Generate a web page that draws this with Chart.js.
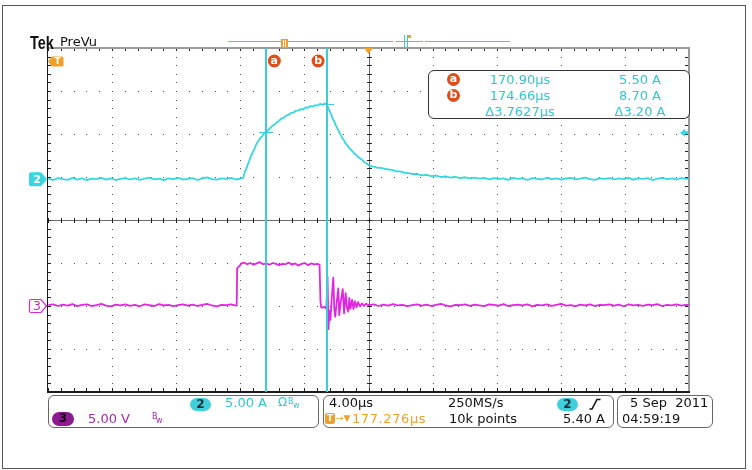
<!DOCTYPE html>
<html><head><meta charset="utf-8">
<script src="https://cdn.jsdelivr.net/npm/chart.js@4.4.0/dist/chart.umd.min.js"></script>
<style>
html,body{margin:0;padding:0;background:#fff;}
#wrap{position:relative;width:752px;height:470px;overflow:hidden;font-family:"DejaVu Sans",sans-serif;}
#c{position:absolute;left:0;top:0;}
.frame{position:absolute;left:2px;top:5px;width:742px;height:462px;border:1px solid #555;}
.t{position:absolute;white-space:pre;font-size:13px;line-height:13px;}
.box{position:absolute;border:1px solid #666;border-radius:6px;background:#fff;box-sizing:border-box;}
.pill{position:absolute;border-radius:7px;text-align:center;font-size:12px;line-height:13px;font-weight:bold;}
.circ{position:absolute;width:13px;height:13px;border-radius:50%;background:#e24c1a;color:#fff;font-size:11px;line-height:12px;text-align:center;font-weight:bold;}
.cy{color:#30c6d4;}
.mg{color:#a528a8;}
.or{color:#f0a028;}
.small{position:absolute;font-size:8px;line-height:8px;}
</style>
</head>
<body>
<div id="wrap">
  <div class="frame"></div>
  <canvas id="c" width="752" height="470"></canvas>

  <div class="t" style="left:30px;top:33px;font-family:'Liberation Sans',sans-serif;font-weight:bold;font-size:19px;line-height:19px;transform:scaleX(0.76);transform-origin:left top;color:#111;">Tek</div>
  <div class="t" style="left:60px;top:35px;color:#111;">PreVu</div>

  <!-- cursor readout -->
  <div class="box" style="left:428px;top:70px;width:262px;height:49px;border-color:#333;"></div>
  <div class="circ" style="left:447px;top:73px;">a</div>
  <div class="circ" style="left:447px;top:89px;">b</div>
  <div class="t cy" style="left:470px;top:73px;width:100px;text-align:center;">170.90µs</div>
  <div class="t cy" style="left:590px;top:73px;width:100px;text-align:center;">5.50 A</div>
  <div class="t cy" style="left:470px;top:89px;width:100px;text-align:center;">174.66µs</div>
  <div class="t cy" style="left:590px;top:89px;width:100px;text-align:center;">8.70 A</div>
  <div class="t cy" style="left:470px;top:105px;width:100px;text-align:center;">Δ3.7627µs</div>
  <div class="t cy" style="left:590px;top:105px;width:100px;text-align:center;">Δ3.20 A</div>

  <!-- bottom readouts -->
  <div class="box" style="left:48px;top:395px;width:271px;height:33px;"></div>
  <div class="box" style="left:323px;top:395px;width:291px;height:33px;"></div>
  <div class="box" style="left:617px;top:395px;width:96px;height:33px;"></div>

  <div class="pill" style="left:190px;top:398px;width:21px;height:13px;background:#3fd0dc;color:#1d2f36;">2</div>
  <div class="t cy" style="left:225px;top:396px;">5.00 A</div>
  <div class="t cy" style="left:278px;top:396px;font-size:12px;">Ω</div>
  <div class="small cy" style="left:288px;top:398px;">B</div>
  <div class="small cy" style="left:293px;top:402px;">w</div>

  <div class="pill" style="left:52px;top:412px;width:22px;height:14px;background:#8e1a90;color:#160818;">3</div>
  <div class="t mg" style="left:88px;top:412px;">5.00 V</div>
  <div class="small mg" style="left:152px;top:413px;">B</div>
  <div class="small mg" style="left:156px;top:417px;">w</div>

  <div class="t" style="left:329px;top:396px;color:#111;">4.00µs</div>
  <div class="t" style="left:448px;top:396px;color:#111;">250MS/s</div>
  <div class="pill" style="left:557px;top:398px;width:21px;height:13px;background:#3fd0dc;color:#1d2f36;">2</div>
  <svg style="position:absolute;left:589px;top:398px;" width="12" height="12" viewBox="0 0 12 12"><polyline points="0.5,11 3,11 8,1.5 11.5,1.5" fill="none" stroke="#111" stroke-width="1.6"/></svg>

  <div class="pill" style="left:325px;top:413px;width:10px;height:11px;border-radius:2px;background:#f0a028;color:#fff;font-size:9px;line-height:11px;">T</div>
  <div class="t or" style="left:336px;top:413px;font-size:9px;line-height:11px;">→▼</div>
  <div class="t or" style="left:352px;top:412px;letter-spacing:0.6px;">177.276µs</div>
  <div class="t" style="left:449px;top:412px;color:#111;">10k points</div>
  <div class="t" style="left:563px;top:412px;color:#111;">5.40 A</div>

  <div class="t" style="left:630px;top:396px;color:#111;">5 Sep  2011</div>
  <div class="t" style="left:622px;top:412px;color:#111;">04:59:19</div>
</div>

<script>
// ---------- scope settings ----------
const TIME_PER_DIV = 4.0;      // µs / div
const CENTER_TIME = 177.276;   // µs at screen centre (horizontal delay)
const AMPS_PER_DIV = 5.0;      // channel 2
const VOLTS_PER_DIV = 5.0;     // channel 3
const CH2_OFFSET_DIV = 0.95;   // ground level of ch2 (divisions above centre)
const CH3_OFFSET_DIV = -2.0;   // ground level of ch3
const H_DIVS = 10, V_DIVS = 8, MINOR = 5;

const cursorNames = ['a', 'b'];
const cursorTimes = [170.90, 174.66];   // µs
const cursorAmps  = [5.50, 8.70];       // A
const triggerLevel = 5.40;              // A

// ---------- channel 2 : current (A) ----------
const ch2Time = [
 157.3,157.6,157.9,158.2,158.5,158.8,159.1,159.4,159.7,160.0,
 160.3,160.6,160.9,161.2,161.5,161.8,162.1,162.4,162.7,163.0,
 163.3,163.6,163.9,164.2,164.5,164.8,165.1,165.4,165.7,166.0,
 166.3,166.6,166.9,167.2,167.5,167.8,168.1,168.4,168.7,169.0,
 169.3,169.45,169.55,169.65,169.75,169.85,169.95,170.05,170.15,170.25,
 170.35,170.45,170.55,170.65,170.75,170.85,170.95,171.1,171.25,171.4,
 171.55,171.7,171.85,172.0,172.15,172.3,172.45,172.6,172.75,172.9,
 173.05,173.2,173.35,173.5,173.65,173.8,173.95,174.1,174.25,174.4,
 174.55,174.66,174.75,174.85,174.95,175.05,175.15,175.25,175.35,175.45,
 175.55,175.65,175.75,175.85,175.95,176.1,176.25,176.4,176.55,176.7,
 176.85,177.0,177.15,177.3,177.45,177.6,177.8,178.0,178.2,178.4,
 178.6,178.8,179.0,179.25,179.5,179.75,180.0,180.3,180.6,180.9,
 181.2,181.5,181.8,182.1,182.4,182.7,183.0,183.3,183.6,183.9,
 184.2,184.5,184.8,185.1,185.4,185.7,186.0,186.3,186.6,186.9,
 187.2,187.5,187.8,188.1,188.4,188.7,189.0,189.3,189.6,189.9,
 190.2,190.5,190.8,191.1,191.4,191.7,192.0,192.3,192.6,192.9,
 193.2,193.5,193.8,194.1,194.4,194.7,195.0,195.3,195.6,195.9,
 196.2,196.5,196.8,197.1,197.28
];
const ch2Amps = [
 0.05,-0.1,0.12,0.0,-0.08,0.15,-0.05,0.1,-0.12,0.06,
 0.0,0.14,-0.06,0.08,-0.1,0.02,0.12,-0.04,0.1,-0.08,
 0.05,0.18,-0.02,0.06,-0.12,0.1,0.0,0.16,-0.06,0.04,
 0.12,-0.1,0.08,0.2,0.0,-0.06,0.1,0.02,0.14,-0.04,
 0.06,0.15,0.75,1.2,1.75,2.2,2.75,3.1,3.5,3.95,
 4.3,4.55,4.85,5.0,5.3,5.4,5.6,5.85,6.15,6.35,
 6.6,6.8,7.05,7.15,7.4,7.5,7.7,7.75,7.95,8.0,
 8.15,8.1,8.35,8.3,8.5,8.45,8.6,8.55,8.75,8.65,
 8.8,8.7,8.35,7.95,7.5,7.0,6.65,6.2,5.85,5.45,
 5.15,4.75,4.5,4.15,3.95,3.55,3.3,2.95,2.75,2.45,
 2.3,2.0,1.85,1.6,1.5,1.45,1.35,1.3,1.25,1.15,
 1.1,1.05,0.9,0.9,0.75,0.7,0.6,0.62,0.45,0.5,
 0.35,0.4,0.25,0.32,0.18,0.28,0.12,0.22,0.08,0.18,
 0.05,0.15,-0.02,0.12,0.0,0.1,-0.08,0.14,0.02,0.08,
 -0.1,0.12,0.04,-0.04,0.16,0.0,0.1,-0.06,0.08,0.14,
 -0.02,0.06,0.18,0.0,-0.08,0.1,0.04,0.12,-0.04,0.08,
 0.0,0.15,-0.06,0.1,0.02,0.12,-0.1,0.06,0.14,0.0,
 0.08,-0.04,0.12,0.02,0.06
];

// ---------- channel 3 : voltage (V) ----------
const ch3Time = [
 157.3,157.6,157.9,158.2,158.5,158.8,159.1,159.4,159.7,160.0,
 160.3,160.6,160.9,161.2,161.5,161.8,162.1,162.4,162.7,163.0,
 163.3,163.6,163.9,164.2,164.5,164.8,165.1,165.4,165.7,166.0,
 166.3,166.6,166.9,167.2,167.5,167.8,168.1,168.4,168.7,169.0,
 169.05,169.08,169.2,169.35,169.5,169.7,169.9,170.1,170.3,170.5,
 170.7,170.9,171.1,171.3,171.5,171.7,171.9,172.1,172.3,172.5,
 172.7,172.9,173.1,173.3,173.5,173.7,173.9,174.1,174.22,174.28,
 174.32,174.4,174.5,174.6,174.655,174.717,174.78,174.84,174.905,174.97,
 175.08,175.14,175.2,175.28,175.39,175.45,175.54,175.67,175.75,175.85,
 175.93,176.02,176.08,176.15,176.25,176.34,176.43,176.53,176.62,176.75,
 176.87,177.0,177.12,177.3,177.6,177.9,178.2,178.5,178.8,179.1,
 179.4,179.7,180.0,180.3,180.6,180.9,181.2,181.5,181.8,182.1,
 182.4,182.7,183.0,183.3,183.6,183.9,184.2,184.5,184.8,185.1,
 185.4,185.7,186.0,186.3,186.6,186.9,187.2,187.5,187.8,188.1,
 188.4,188.7,189.0,189.3,189.6,189.9,190.2,190.5,190.8,191.1,
 191.4,191.7,192.0,192.3,192.6,192.9,193.2,193.5,193.8,194.1,
 194.4,194.7,195.0,195.3,195.6,195.9,196.2,196.5,196.8,197.1,
 197.28
];
const ch3Volts = [
 0.1,0.2,0.0,0.15,0.05,0.22,-0.02,0.12,0.18,0.0,
 0.1,0.25,0.05,-0.05,0.15,0.08,0.2,0.02,0.12,-0.03,
 0.18,0.1,0.0,0.22,0.08,0.14,-0.02,0.1,0.2,0.04,
 0.16,0.0,0.12,0.24,0.06,-0.04,0.14,0.1,0.2,0.05,
 0.05,4.4,4.6,4.95,5.05,4.85,5.0,4.8,4.95,5.1,
 4.85,4.95,4.8,5.0,4.9,4.75,4.9,4.85,5.05,4.8,
 4.95,4.7,4.9,5.0,4.75,4.95,4.85,4.9,4.8,0.5,
 -0.15,-0.2,-0.1,-0.25,0.1,3.4,-2.7,-0.5,-1.6,0.6,
 3.3,-0.3,-1.25,0.2,2.05,-1.05,0.4,1.95,-0.85,1.5,
 -0.2,-0.65,0.95,-0.3,0.7,-0.35,0.55,-0.15,0.45,-0.05,
 0.3,0.0,0.25,0.1,0.2,0.0,0.15,0.05,0.22,0.08,
 0.14,-0.02,0.1,0.2,0.04,0.16,0.0,0.12,0.24,0.06,
 -0.04,0.14,0.1,0.2,0.02,0.16,0.08,-0.02,0.18,0.12,
 0.04,0.22,0.0,0.1,0.16,0.06,0.2,-0.04,0.12,0.08,
 0.18,0.02,0.14,0.24,0.04,0.1,-0.02,0.16,0.08,0.2,
 0.0,0.12,0.1,0.18,0.05,0.15,-0.03,0.2,0.08,0.12,
 0.02,0.16,0.1,0.22,0.0,0.14,0.06,0.18,0.04,0.12,
 0.1
];

const CH2_COLOR = '#38d6df';
const CH3_COLOR = '#e026e0';
const CURSOR_COLOR = '#3ccbd9';
const ORANGE = '#f0a028';
const CURSOR_BADGE = '#e24c1a';

function zip(xs, ys) {
  const n = Math.min(xs.length, ys.length), out = [];
  for (let i = 0; i < n; i++) out.push({x: xs[i], y: ys[i]});
  return out;
}

const scopePlugin = {
  id: 'scope',
  beforeDatasetsDraw(chart) {
    const {ctx, chartArea: a} = chart;
    const xs = chart.scales.x, ds = chart.scales.div;
    const xm = [], ym = [];
    for (let k = 0; k <= H_DIVS * MINOR; k++) xm.push(Math.round(xs.getPixelForValue(xs.min + k * TIME_PER_DIV / MINOR)));
    for (let k = 0; k <= V_DIVS * MINOR; k++) ym.push(Math.round(ds.getPixelForValue(-V_DIVS / 2 + k / MINOR)));
    ctx.save();
    // dotted graticule
    ctx.fillStyle = '#4a4a4a';
    for (let i = 1; i < H_DIVS; i++) {
      if (i === H_DIVS / 2) continue;
      const x = xm[i * MINOR];
      for (const y of ym) ctx.fillRect(x, y, 1, 1);
    }
    for (let j = 1; j < V_DIVS; j++) {
      if (j === V_DIVS / 2) continue;
      const y = ym[j * MINOR];
      for (const x of xm) ctx.fillRect(x, y, 1, 1);
    }
    // centre cross
    const cx = xm[H_DIVS / 2 * MINOR], cy = ym[V_DIVS / 2 * MINOR];
    ctx.fillStyle = '#6a6a6a';
    ctx.fillRect(a.left, cy, a.right - a.left, 1);
    ctx.fillRect(cx, a.top, 1, a.bottom - a.top);
    ctx.fillStyle = '#222';
    for (const x of xm) ctx.fillRect(x, cy - 2, 1, 5);
    for (const y of ym) ctx.fillRect(cx - 2, y, 5, 1);
    // edge ticks
    for (const x of xm) { ctx.fillRect(x, a.top, 1, 3); ctx.fillRect(x, a.bottom - 4, 1, 3); }
    for (const y of ym) { ctx.fillRect(a.left, y, 3, 1); ctx.fillRect(a.right - 4, y, 3, 1); }
    // frame
    ctx.fillStyle = '#9a9a9a';
    ctx.fillRect(a.left - 1, a.top - 1, a.right - a.left + 2, 2);
    ctx.fillRect(a.right - 1, a.top - 1, 2, a.bottom - a.top + 2);
    ctx.fillStyle = '#1a1a1a';
    ctx.fillRect(a.left - 1, a.top - 1, 1, a.bottom - a.top + 2);
    ctx.fillRect(a.left - 1, a.bottom - 1, a.right - a.left + 2, 2);
    ctx.restore();
  },
  afterDatasetsDraw(chart) {
    const {ctx, chartArea: a} = chart;
    const xs = chart.scales.x, yA = chart.scales.yA, yV = chart.scales.yV;
    ctx.save();
    // cursors
    cursorTimes.forEach((t, i) => {
      const px = xs.getPixelForValue(t);
      ctx.fillStyle = CURSOR_COLOR;
      ctx.fillRect(Math.round(px) - 1, a.top, 2, a.bottom - a.top);
      const py = Math.round(yA.getPixelForValue(cursorAmps[i]));
      ctx.fillRect(Math.round(px) - 7, py, 14, 1);
      // badge
      const bx = px + (i === 0 ? 8 : -8.5), by = 61;
      ctx.beginPath(); ctx.arc(bx, by, 6.5, 0, Math.PI * 2);
      ctx.fillStyle = CURSOR_BADGE; ctx.fill();
      ctx.fillStyle = '#fff'; ctx.font = 'bold 11px "DejaVu Sans"';
      ctx.textAlign = 'center'; ctx.textBaseline = 'middle';
      ctx.fillText(cursorNames[i], bx, by);
    });
    ctx.font = 'bold 11px "DejaVu Sans"';
    ctx.textAlign = 'center'; ctx.textBaseline = 'middle';
    // ch2 ground marker
    let gy = yA.getPixelForValue(0);
    ctx.beginPath();
    ctx.moveTo(31, gy - 7); ctx.lineTo(41, gy - 7); ctx.lineTo(47, gy); ctx.lineTo(41, gy + 7);
    ctx.lineTo(31, gy + 7); ctx.quadraticCurveTo(29, gy + 7, 29, gy + 5); ctx.lineTo(29, gy - 5);
    ctx.quadraticCurveTo(29, gy - 7, 31, gy - 7); ctx.closePath();
    ctx.fillStyle = CH2_COLOR; ctx.fill();
    ctx.fillStyle = '#ffffff'; ctx.fillText('2', 37, gy + 0.5);
    // ch3 ground marker
    gy = yV.getPixelForValue(0);
    ctx.beginPath();
    ctx.moveTo(31, gy - 6.5); ctx.lineTo(41, gy - 6.5); ctx.lineTo(46.5, gy); ctx.lineTo(41, gy + 6.5);
    ctx.lineTo(31, gy + 6.5); ctx.quadraticCurveTo(29.5, gy + 6.5, 29.5, gy + 5); ctx.lineTo(29.5, gy - 5);
    ctx.quadraticCurveTo(29.5, gy - 6.5, 31, gy - 6.5); ctx.closePath();
    ctx.fillStyle = '#fff'; ctx.fill();
    ctx.strokeStyle = CH3_COLOR; ctx.lineWidth = 1.2; ctx.stroke();
    ctx.fillStyle = '#b02cb0'; ctx.font = '12px "DejaVu Sans"'; ctx.fillText('3', 37, gy + 0.5);
    // trigger level arrow (right)
    const ty = yA.getPixelForValue(triggerLevel);
    ctx.fillStyle = CH2_COLOR;
    ctx.beginPath(); ctx.moveTo(680, ty); ctx.lineTo(685, ty - 4); ctx.lineTo(685, ty + 4); ctx.closePath(); ctx.fill();
    ctx.fillRect(685, ty - 1.5, 3, 3);
    // trigger position marker (left, off-screen)
    ctx.fillStyle = ORANGE;
    ctx.beginPath(); ctx.moveTo(48, 61.5); ctx.lineTo(52, 56.5); ctx.lineTo(62, 56.5);
    ctx.quadraticCurveTo(63.5, 56.5, 63.5, 58); ctx.lineTo(63.5, 65); ctx.quadraticCurveTo(63.5, 66.5, 62, 66.5);
    ctx.lineTo(52, 66.5); ctx.closePath(); ctx.fill();
    ctx.fillStyle = '#fff'; ctx.font = 'bold 9px "DejaVu Sans"'; ctx.fillText('T', 57.5, 62);
    // expansion point (delay centre)
    const dx = xs.getPixelForValue(CENTER_TIME);
    ctx.fillStyle = ORANGE;
    ctx.beginPath(); ctx.moveTo(dx - 4.5, 48); ctx.lineTo(dx + 4.5, 48); ctx.lineTo(dx, 54); ctx.closePath(); ctx.fill();
    // record-view bar at top
    ctx.fillStyle = CURSOR_COLOR;
    ctx.fillRect(228, 41, 165, 1);
    ctx.fillRect(396, 41, 27, 1);
    ctx.fillRect(425, 41, 85, 1);
    ctx.fillRect(404, 35, 1, 13);
    ctx.fillRect(407, 35, 1, 13);
    ctx.fillStyle = ORANGE;
    ctx.fillRect(408, 35, 3, 3);
    ctx.fillRect(281, 39, 7, 9);
    ctx.fillStyle = '#fff';
    ctx.fillRect(283, 40, 1, 7);
    ctx.fillRect(285, 40, 1, 7);
    ctx.restore();
  }
};

new Chart(document.getElementById('c'), {
  type: 'line',
  data: {
    datasets: [
      { label: 'Ch2 current (A)', data: zip(ch2Time, ch2Amps), yAxisID: 'yA',
        borderColor: CH2_COLOR, borderWidth: 1.8, pointRadius: 0, tension: 0, borderJoinStyle: 'round' },
      { label: 'Ch3 voltage (V)', data: zip(ch3Time, ch3Volts), yAxisID: 'yV',
        borderColor: CH3_COLOR, borderWidth: 1.8, pointRadius: 0, tension: 0, borderJoinStyle: 'round' }
    ]
  },
  options: {
    responsive: false, animation: false, devicePixelRatio: 1, events: [],
    layout: { padding: { left: 48, top: 48, right: 63, bottom: 78 } },
    plugins: { legend: { display: false }, tooltip: { enabled: false }, title: { display: false } },
    scales: {
      x: { type: 'linear', display: false,
           min: CENTER_TIME - H_DIVS / 2 * TIME_PER_DIV, max: CENTER_TIME + H_DIVS / 2 * TIME_PER_DIV },
      yA: { type: 'linear', position: 'left', display: false,
            min: (-V_DIVS / 2 - CH2_OFFSET_DIV) * AMPS_PER_DIV, max: (V_DIVS / 2 - CH2_OFFSET_DIV) * AMPS_PER_DIV },
      yV: { type: 'linear', position: 'left', display: false,
            min: (-V_DIVS / 2 - CH3_OFFSET_DIV) * VOLTS_PER_DIV, max: (V_DIVS / 2 - CH3_OFFSET_DIV) * VOLTS_PER_DIV },
      div: { type: 'linear', axis: 'y', position: 'left', display: false, min: -V_DIVS / 2, max: V_DIVS / 2 }
    }
  },
  plugins: [scopePlugin]
});
</script>
</body></html>
